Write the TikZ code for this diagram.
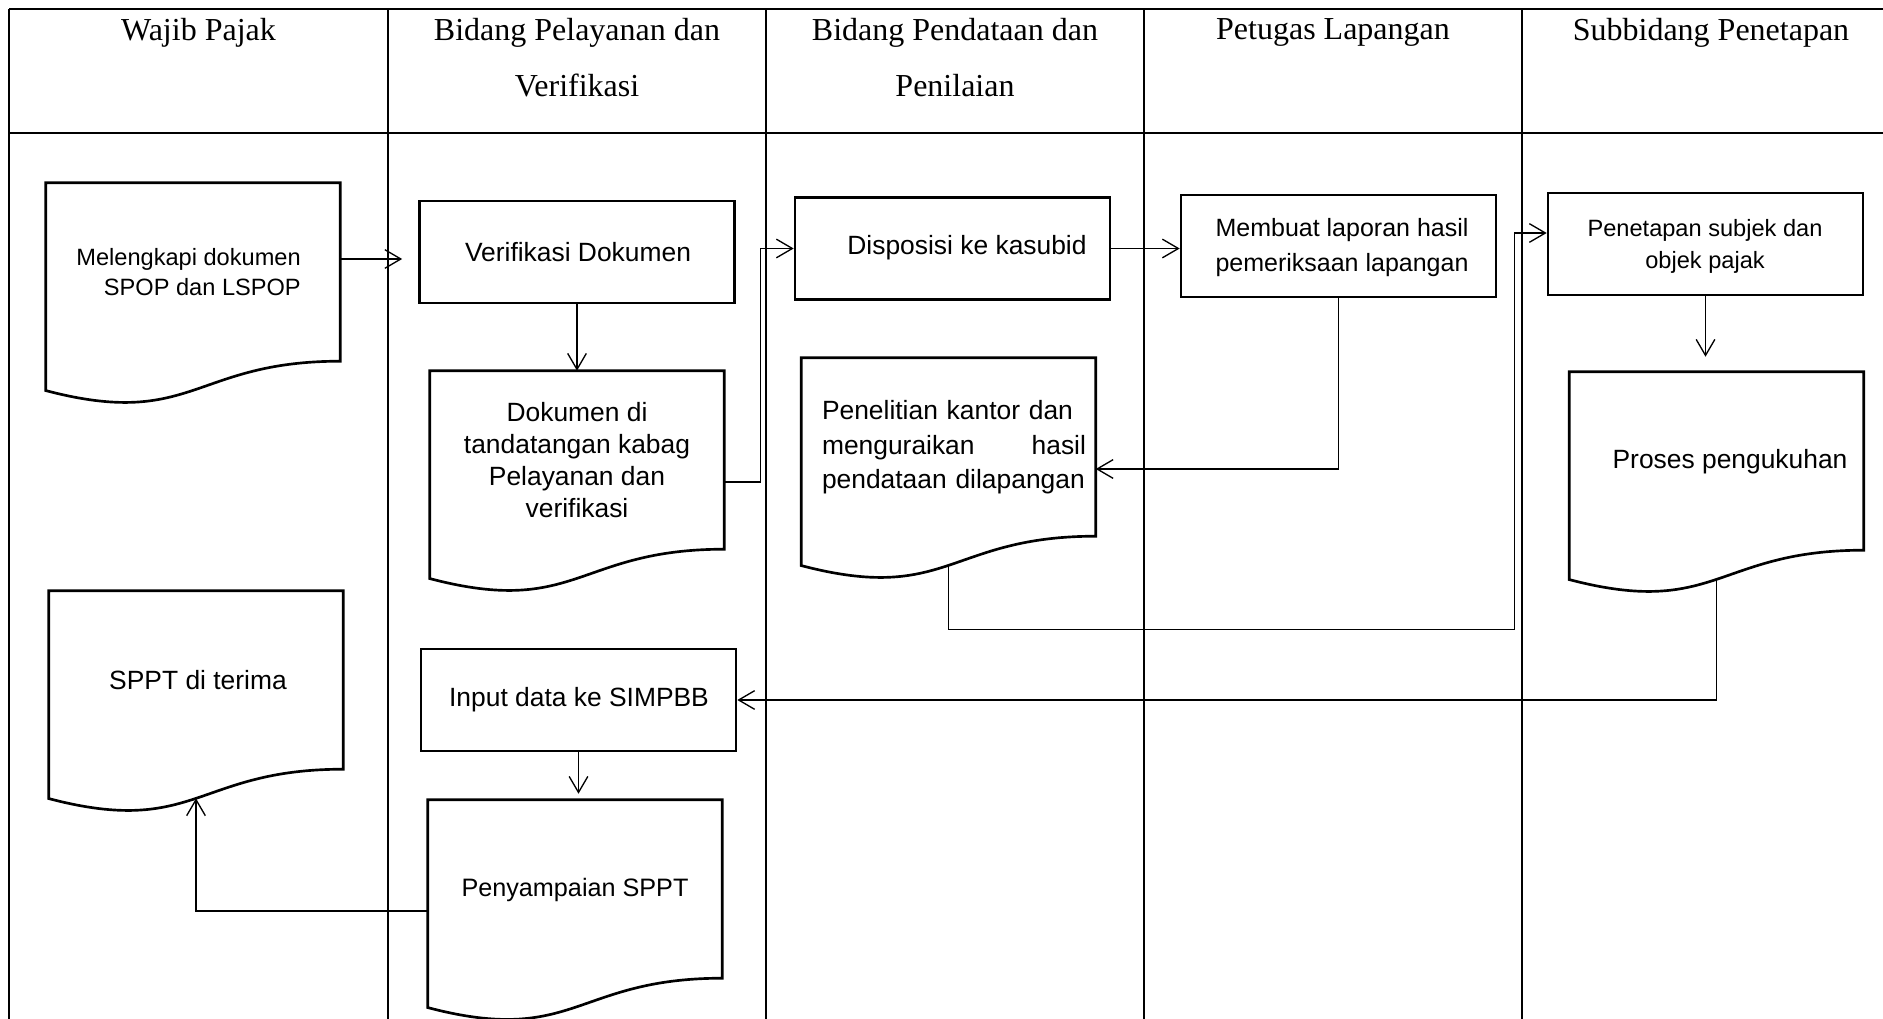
\documentclass[tikz,border=0pt]{standalone}
\usepackage{fontspec}
\setmainfont{Liberation Sans}
\newfontfamily\hdrfont{Liberation Serif}
\usetikzlibrary{calc,arrows.meta}
\newcommand\docpath[1]{%
  \draw[boxline] (#1.north west) -- (#1.north east)
    -- ($(#1.north east)!0.802!(#1.south east)$)
    .. controls ($(#1.north)!0.802!(#1.south)$) and ($(#1.north)!1.1075!(#1.south)$)
    .. ($(#1.north west)!0.934!(#1.south west)$) -- cycle;}
\begin{document}
\begin{tikzpicture}[x=0.75pt,y=-0.75pt,
  lane/.style={line width=1.5pt},
  border/.style={line width=2pt},
  boxline/.style={draw, line width=2pt, fill=white, line join=miter},
  rectbox/.style={boxline, minimum width=236.25pt, minimum height=76.5pt, inner sep=0},
  docbox/.style={minimum width=220.5pt, minimum height=166.5pt, inner sep=0},
  conn/.style={line width=1pt, -{Straight Barb[length=12pt,width=14pt]}},
  hdr/.style={font=\hdrfont\fontsize{24pt}{42pt}\selectfont, align=center, anchor=north, inner sep=0},
  lbl/.style={inner sep=0, align=center},
  fbig/.style={font=\fontsize{19.8pt}{24.2pt}\selectfont},
]
\fill[white] (0,0) rectangle (1883,1019);
\useasboundingbox (0,0) rectangle (1883,1019);
% table
\draw[border] (9,9) -- (1883,9);
\draw[border] (9,133) -- (1883,133);
\foreach \x in {9,388,766,1144,1522} \draw[lane] (\x,9) -- (\x,1019);
% headers
\node[hdr] (h1) at (198.5,18) {Wajib Pajak};
\node[hdr] (h2) at (577,18) {Bidang Pelayanan dan\\Verifikasi};
\node[hdr] (h3) at (955,18) {Bidang Pendataan dan\\Penilaian};
\node[hdr] (h4) at (1333,18) {Petugas Lapangan};
\node[hdr] (h5) at (1711,18) {Subbidang Penetapan};
% boxes
\node[docbox] (b1) at (193,294) {}; \docpath{b1}
\node[rectbox] (b2) at (577,252) {};
\node[docbox] (b3) at (577,482) {}; \docpath{b3}
\node[rectbox] (b4) at (952.5,248.5) {};
\node[rectbox] (b5) at (1338.5,246) {};
\node[docbox] (b6) at (948.5,469) {}; \docpath{b6}
\node[rectbox] (b7) at (1705.5,244) {};
\node[docbox] (b8) at (1716.5,483) {}; \docpath{b8}
\node[docbox] (b9) at (196,702) {}; \docpath{b9}
\node[rectbox] (b10) at (578.5,700) {};
\node[docbox] (b11) at (575,911) {}; \docpath{b11}
% texts
\node[lbl, align=right, anchor=east, font=\fontsize{17.7pt}{22.5pt}\selectfont] (t1) at (301,272) {Melengkapi dokumen\\SPOP dan LSPOP};
\node[lbl, fbig] (t2) at (578,252) {Verifikasi Dokumen};
\node[lbl, font=\fontsize{19.8pt}{24.2pt}\selectfont] (t3) at (577,460) {Dokumen di\\tandatangan kabag\\Pelayanan dan\\verifikasi};
\node[lbl, fbig] (t4) at (967,248) {Disposisi ke kasubid};
\node[lbl, font=\fontsize{18.75pt}{26.25pt}\selectfont] (t5) at (1342,247.5) {Membuat laporan hasil\\pemeriksaan lapangan};
\node[lbl, align=left, text width=198pt, font=\fontsize{19.8pt}{25.9pt}\selectfont] (t6) at (954,447.5) {Penelitian kantor dan\\\makebox[198pt]{menguraikan\hfill hasil}\\pendataan dilapangan};
\node[lbl, font=\fontsize{17.7pt}{24pt}\selectfont] (t7) at (1705,246) {Penetapan subjek dan\\objek pajak};
\node[lbl, fbig] (t8) at (1730,462) {Proses pengukuhan};
\node[lbl, fbig] (t9) at (198,680) {SPPT di terima};
\node[lbl, fbig] (t10) at (579,700) {Input data ke SIMPBB};
\node[lbl, font=\fontsize{18.9pt}{24pt}\selectfont] (t11) at (575,890) {Penyampaian SPPT};
% wave midpoints
\coordinate (w6) at ($(b6.north)!0.933!(b6.south)$);
\coordinate (w8) at ($(b8.north)!0.933!(b8.south)$);
\coordinate (w9) at ($(b9.north)!0.933!(b9.south)$);
% connectors
\draw[conn] ($(b1.east |- b2.west)+(0,7)$) -- ($(b2.west)+(-16,7)$);
\draw[conn] (b2.south) -- (b3.north);
\draw[conn] (b3.east) -- ++(36,0) |- (b4.west);
\draw[conn] (b4.east) -- (b4.east -| b5.west);
\draw[conn] (b5.south) |- (b6.east);
\draw[conn] (w6) -- ++(0,64) -| ($(b7.west)+(-32,-11)$) -- ($(b7.west)+(0,-11)$);
\draw[conn] (b7.south) -- ($(b7.south |- b8.north)+(0,-15)$);
\draw[conn] (w8) |- (b10.east);
\draw[conn] (b10.south) -- ($(b10.south |- b11.north)+(0,-6)$);
\draw[conn] (b11.west) -| (w9);
\end{tikzpicture}
\end{document}
